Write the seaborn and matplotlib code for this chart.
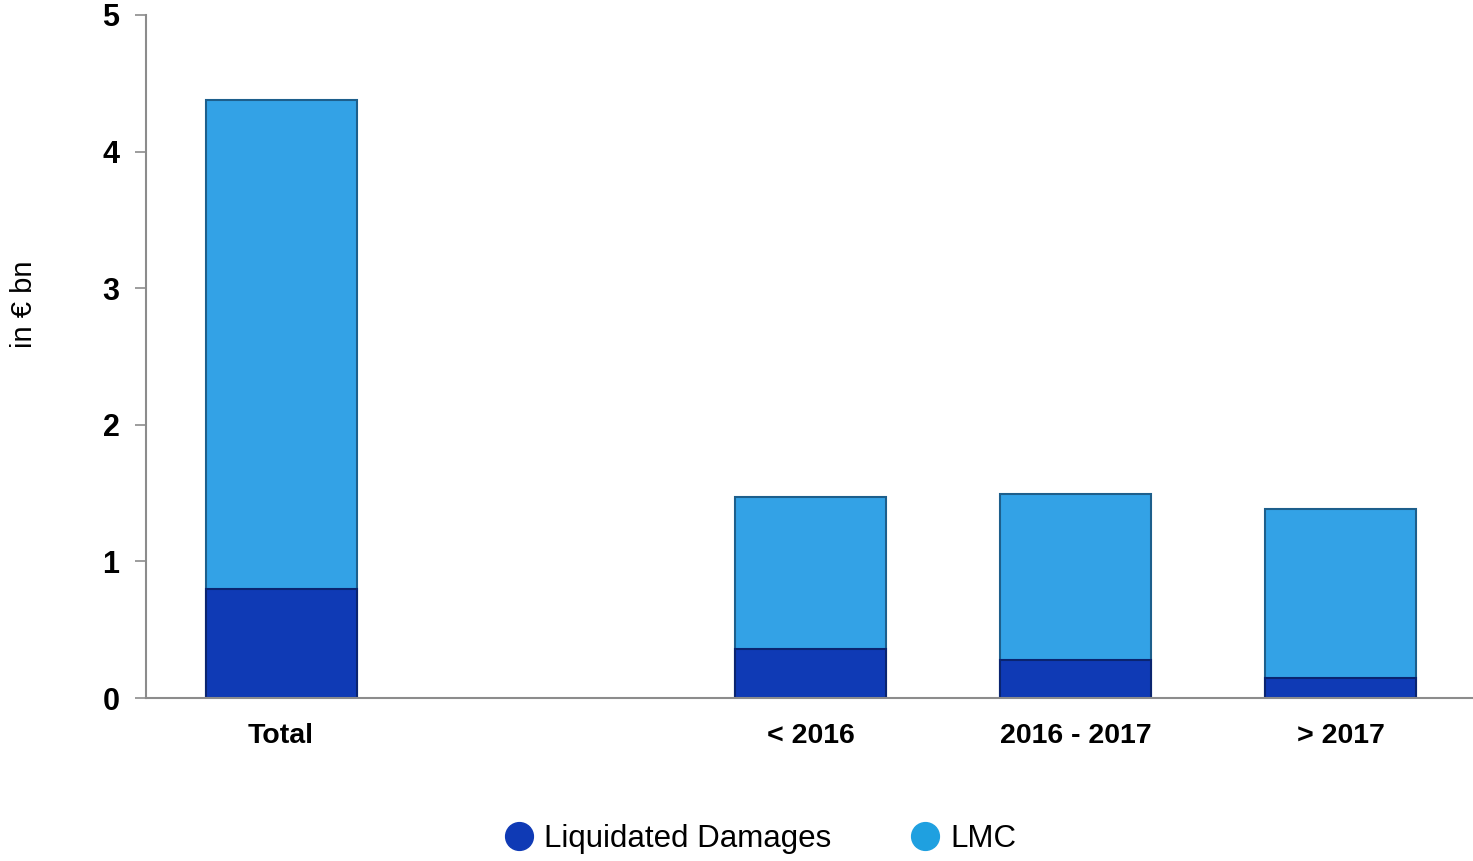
import pandas as pd
import seaborn as sns
import matplotlib.pyplot as plt
from matplotlib.lines import Line2D

# values (in EUR bn)
categories = ['Total', ' ', '< 2016', '2016 - 2017', '> 2017']
bar_cats = ['Total', '< 2016', '2016 - 2017', '> 2017']
liquidated_damages = [0.80, 0.36, 0.28, 0.15]
lmc = [3.58, 1.11, 1.21, 1.23]
series_names = ['Liquidated Damages', 'LMC']

dark_blue = '#0F3AB5'
light_blue = '#33A2E6'


def build_frame():
    df = pd.DataFrame({'cat': bar_cats, 'ld': liquidated_damages, 'lmc': lmc})
    df['total'] = df['ld'] + df['lmc']
    return df


def plot_chart(df):
    sns.set_style('white')
    plt.rcParams['font.family'] = ['Liberation Sans', 'DejaVu Sans']
    plt.rcParams['text.color'] = 'black'
    plt.rcParams['xtick.color'] = 'black'
    plt.rcParams['ytick.color'] = 'black'

    fig = plt.figure(figsize=(14.73, 8.61), dpi=100)
    ax = fig.add_axes([0.0991, 0.1893, 0.9009, 0.7933])

    # stacked look: full height in light blue, lower part in dark blue
    sns.barplot(data=df, x='cat', y='total', order=categories, color=light_blue,
                width=0.57, edgecolor='#1D5F8C', linewidth=1.5, saturation=1, ax=ax)
    sns.barplot(data=df, x='cat', y='ld', order=categories, color=dark_blue,
                width=0.57, edgecolor='#0A2470', linewidth=1.5, saturation=1, ax=ax)

    ax.set_xlim(-0.51, 4.5)
    ax.set_ylim(0, 5)
    ax.set_yticks([0, 1, 2, 3, 4, 5])
    ax.set_xlabel('')
    ax.set_ylabel('')
    fig.text(0.016, 0.647, 'in € bn', rotation=90, fontsize=21,
             ha='center', va='center', color='black')

    sns.despine(ax=ax)
    for side in ['left', 'bottom']:
        ax.spines[side].set_color('#8C8C8C')
        ax.spines[side].set_linewidth(1.5)

    ax.tick_params(axis='y', direction='out', length=8, width=1.2, color='#8C8C8C',
                   labelcolor='black', labelsize=22, pad=11, left=True)
    ax.tick_params(axis='x', length=0, labelsize=20.5, pad=18, labelcolor='black')
    for lab in ax.get_xticklabels() + ax.get_yticklabels():
        lab.set_fontweight('bold')

    handles = [
        Line2D([], [], marker='o', linestyle='', markersize=20, color=dark_blue),
        Line2D([], [], marker='o', linestyle='', markersize=20, color='#1FA0E0'),
    ]
    fig.legend(handles, series_names, loc='center', bbox_to_anchor=(0.516, 0.026),
               ncol=2, frameon=False, fontsize=22.5, handletextpad=0.3,
               columnspacing=2.5, handlelength=1.0, labelcolor='black')

    fig.savefig('out.png', dpi=100)


if __name__ == '__main__':
    plot_chart(build_frame())
